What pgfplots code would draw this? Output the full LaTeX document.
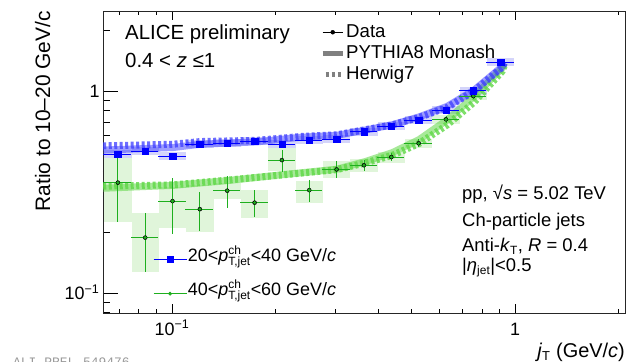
\documentclass[border=0pt]{standalone}
\usepackage{pgfplots}
\pgfplotsset{compat=1.18}
\usepackage{pgfplotstable}
\usepackage{fontspec}
\setmainfont{Liberation Sans}
\newfontfamily\monofont{Liberation Mono}
\newcommand{\fs}[1]{\fontsize{#1}{#1}\selectfont}
\newcommand{\sub}[2][12]{$_{\mbox{\fs{#1}#2}}$}
\newcommand{\subsup}[2]{$^{\mbox{\fs{12}#1}}_{\mbox{\fs{12}#2}}$}
\definecolor{dblue}{RGB}{0,0,255}
\definecolor{bband}{RGB}{60,60,255}
\definecolor{bbox}{RGB}{212,212,250}
\definecolor{dgreen}{RGB}{30,175,30}
\definecolor{gband}{RGB}{95,215,70}
\definecolor{gbox}{RGB}{224,245,218}

% blue: 20<pT<40
\pgfplotstableread{
x      y      ex    ey    sr
0.0695 0.486  0.092 0.010 0.045
0.0835 0.505  0.092 0.010 0.045
0.1003 0.475  0.092 0.010 0.045
0.1205 0.545  0.092 0.010 0.045
0.1448 0.553  0.092 0.010 0.045
0.1740 0.564  0.092 0.010 0.045
0.2090 0.545  0.092 0.010 0.045
0.2511 0.572  0.092 0.010 0.045
0.3017 0.577  0.092 0.010 0.045
0.3625 0.629  0.092 0.010 0.045
0.4355 0.669  0.092 0.010 0.045
0.5232 0.718  0.092 0.010 0.045
0.6286 0.805  0.092 0.010 0.045
0.7551 1.003  0.092 0.012 0.045
0.9074 1.387  0.092 0.015 0.045
}\bluedata

% green: 40<pT<60
\pgfplotstableread{
x      y      ex    ey     sp    sm
0.0695 0.352  0.092 0.127  0.119 0.127
0.0835 0.188  0.092 0.061  0.061 0.061
0.1003 0.285  0.092 0.088  0.050 0.075
0.1205 0.260  0.092 0.057  0.082 0.059
0.1448 0.321  0.092 0.058  0.030 0.030
0.1740 0.280  0.092 0.042  0.045 0.045
0.2090 0.455  0.092 0.058  0.065 0.055
0.2511 0.323  0.092 0.040  0.037 0.043
0.3017 0.409  0.092 0.040  0.041 0.039
0.3625 0.429  0.092 0.025  0.030 0.030
0.4355 0.471  0.092 0.020  0.030 0.030
0.5232 0.551  0.092 0.025  0.030 0.030
0.6286 0.724  0.092 0.030  0.035 0.035
0.7551 0.944  0.092 0.030  0.045 0.045
0.9074 1.390  0.092 0.030  0.060 0.060
}\greendata

\pgfplotstableread{
x      y
0.063  0.510
0.1007 0.525
0.1207 0.545
0.177  0.560
0.236  0.590
0.302  0.603
0.365  0.640
0.438  0.680
0.525  0.745
0.634  0.840
0.759  1.010
0.916  1.320
0.930  1.380
}\bluepythia

\pgfplotstableread{
x      y
0.063  0.535
0.1007 0.545
0.1207 0.562
0.177  0.570
0.236  0.595
0.302  0.607
0.365  0.643
0.438  0.680
0.525  0.740
0.634  0.830
0.759  1.000
0.916  1.310
0.930  1.380
}\blueherwig

\pgfplotstableread{
x      y
0.063  0.330
0.1007 0.341
0.145  0.360
0.209  0.385
0.302  0.410
0.365  0.447
0.438  0.495
0.525  0.575
0.634  0.720
0.759  0.940
0.916  1.300
0.930  1.370
}\greenpythia

\pgfplotstableread{
x      y
0.063  0.338
0.1007 0.343
0.145  0.362
0.209  0.384
0.302  0.408
0.365  0.440
0.438  0.480
0.525  0.550
0.634  0.680
0.759  0.880
0.916  1.250
0.930  1.340
}\greenherwig

\begin{document}
\begin{tikzpicture}
\begin{axis}[
  name=ax, at={(0,0)}, anchor=south west,
  scale only axis, width=522bp, height=302bp,
  xmode=log, ymode=log,
  xmin=0.0629, xmax=2.09, ymin=0.0796, ymax=2.49,
  xtick={0.1,1}, xticklabels={10\textsuperscript{−1},1},
  ytick={0.1,1}, yticklabels={10\textsuperscript{−1},1},
  minor xtick={0.07,0.08,0.09,0.2,0.3,0.4,0.5,0.6,0.7,0.8,0.9,2},
  minor ytick={0.08,0.09,0.2,0.3,0.4,0.5,0.6,0.7,0.8,0.9,2},
  tick align=inside,
  ytick pos=left,
  xtick style={/pgfplots/major tick length=9bp, /pgfplots/minor tick length=4.5bp},
  ytick style={/pgfplots/major tick length=15bp, /pgfplots/minor tick length=7.5bp},
  every tick/.append style={line width=0.8bp, black},
  axis line style={line width=0.9bp, black!85},
  tick label style={font=\fs{18}},
  xticklabel style={anchor=base, yshift=-22bp},
  yticklabel style={anchor=base east, yshift=-6.4bp},
  legend style={draw=none, fill=none, at={(rel axis cs:0.09,0.232)}, anchor=north west,
    font=\fs{18}, row sep=5bp, nodes={inner sep=1bp, text height=15bp, text depth=12bp}},
  legend cell align=left,
  legend image code/.code={\draw[mark repeat=2,mark phase=2,#1] plot coordinates {(0bp,0bp)(16.5bp,0bp)(33bp,0bp)};},
]
% systematic boxes
\addplot[only marks, mark=none, forget plot, error bars/.cd, y dir=both, y explicit, error mark=none,
  error bar style={line width=27.3bp, gbox, solid}]
  table[x=x, y=y, y error plus=sp, y error minus=sm]{\greendata};
\addplot[only marks, mark=none, forget plot, error bars/.cd, y dir=both, y explicit relative, error mark=none,
  error bar style={line width=27.3bp, bbox, solid}]
  table[x=x, y=y, y error=sr]{\bluedata};
% models
\addplot[forget plot, gband, opacity=0.55, line width=7bp, line join=round] table[x=x,y=y]{\greenpythia};
\addplot[forget plot, gband, opacity=0.8, line width=7bp, dash pattern=on 3bp off 2.5bp] table[x=x,y=y]{\greenherwig};
\addplot[forget plot, bband, opacity=0.5, line width=7bp, line join=round] table[x=x,y=y]{\bluepythia};
\addplot[forget plot, bband, opacity=0.75, line width=7bp, dash pattern=on 3bp off 2.5bp] table[x=x,y=y]{\blueherwig};
% data
\addplot[forget plot, dgreen, only marks, mark=*, mark size=1.4bp, mark options={fill=dgreen, draw=dgreen, solid},
  error bars/.cd, x dir=both, x explicit relative, y dir=both, y explicit, error mark=none,
  error bar style={line width=0.8bp, dgreen, solid}]
  table[x=x, y=y, x error=ex, y error=ey]{\greendata};
\addplot[forget plot, dblue, only marks, mark=square*, mark size=3.2bp,
  error bars/.cd, x dir=both, x explicit relative, y dir=both, y explicit, error mark=none,
  error bar style={line width=0.8bp, dblue, solid}]
  table[x=x, y=y, x error=ex, y error=ey]{\bluedata};
\addlegendimage{dblue, mark=square*, mark size=3bp, line width=0.8bp}
\addlegendentry{20<\textit{p}\subsup{ch}{T,jet}<40 GeV/\textit{c}}
\addlegendimage{dgreen, mark=*, mark size=1.5bp, line width=0.8bp}
\addlegendentry{40<\textit{p}\subsup{ch}{T,jet}<60 GeV/\textit{c}}
\end{axis}

\begin{axis}[
  at={(0,0)}, anchor=south west,
  scale only axis, width=522bp, height=302bp,
  hide axis, xmin=0, xmax=1, ymin=0, ymax=1,
  legend style={draw=none, fill=none, at={(rel axis cs:0.41,0.97)}, anchor=north west,
    font=\fs{18.7}, row sep=1bp, nodes={inner sep=1bp, text height=14bp, text depth=4bp}},
  legend cell align=left,
]
\addlegendimage{legend image code/.code={\draw[black, line width=0.8bp] (0bp,0bp)--(20bp,0bp); \fill[black] (10bp,0bp) circle (2bp);}}
\addlegendentry{Data}
\addlegendimage{legend image code/.code={\draw[black!50, line width=5bp] (0bp,0bp)--(20bp,0bp);}}
\addlegendentry{PYTHIA8 Monash}
\addlegendimage{legend image code/.code={\draw[black!50, line width=5bp, dash pattern=on 3bp off 3bp] (3bp,0bp)--(20bp,0bp);}}
\addlegendentry{Herwig7}
\end{axis}

% texts
\node[inner sep=0pt, anchor=base west, font=\fs{20.5}] at ([shift={(22bp,273bp)}]ax.south west) {ALICE preliminary};
\node[inner sep=0pt, anchor=base west, font=\fs{20.5}] at ([shift={(22bp,245bp)}]ax.south west) {0.4 < \textit{z} ≤1};
\node[inner sep=0pt, anchor=base west, font=\fs{18.5}] at ([shift={(359bp,113bp)}]ax.south west) {pp, √\textit{s} = 5.02 TeV};
\node[inner sep=0pt, anchor=base west, font=\fs{18.5}] at ([shift={(359bp,86bp)}]ax.south west) {Ch-particle jets};
\node[inner sep=0pt, anchor=base west, font=\fs{18.5}] at ([shift={(359bp,61bp)}]ax.south west) {Anti-\textit{k}\sub{T}, \textit{R} = 0.4};
\node[inner sep=0pt, anchor=base west, font=\fs{18.5}] at ([shift={(359bp,41bp)}]ax.south west) {|\textit{η}\sub{jet}|<0.5};
\node[inner sep=0pt, rotate=90, anchor=base east, font=\fs{21}] at ([xshift=-53bp]ax.north west) {Ratio to 10–20 GeV/c};
\node[inner sep=0pt, anchor=base east, font=\fs{20}] at ([yshift=-44bp]ax.south east) {\textit{j}\sub[13]{T} (GeV/\textit{c})};
\node[inner sep=0pt, anchor=base west, font=\monofont\fs{13}, text=black!40] at ([shift={(-90bp,-53bp)}]ax.south west) {ALI-PREL-549476};

\pgfresetboundingbox
\path[use as bounding box] ([shift={(-103bp,-49bp)}]ax.south west) rectangle ([shift={(2bp,11bp)}]ax.north east);
\end{tikzpicture}
\end{document}
